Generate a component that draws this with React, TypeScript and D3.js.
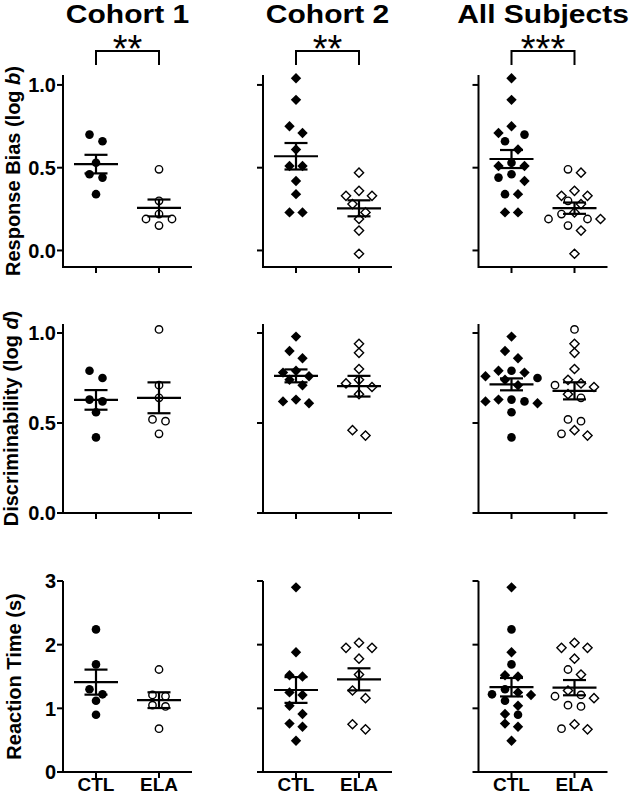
import React from 'react';
import * as d3 from 'd3';

// ---------- data ----------
const groups = ['CTL', 'ELA'];
const columnTitles = ['Cohort 1', 'Cohort 2', 'All Subjects'];
const significance = ['**', '**', '***'];

// Response bias (log b)
const c1BiasCTL = [0.70, 0.66, 0.53, 0.46, 0.44, 0.34];
const c1BiasELA = [0.49, 0.30, 0.22, 0.19, 0.19, 0.15];
const c2BiasCTL = [1.04, 0.91, 0.75, 0.71, 0.61, 0.51, 0.51, 0.42, 0.34, 0.23, 0.23];
const c2BiasELA = [0.47, 0.36, 0.33, 0.33, 0.28, 0.23, 0.19, 0.12, -0.02];

// Discriminability (log d)
const c1DiscCTL = [0.79, 0.75, 0.63, 0.62, 0.56, 0.42];
const c1DiscELA = [1.02, 0.71, 0.64, 0.52, 0.51, 0.44];
const c2DiscCTL = [0.98, 0.90, 0.86, 0.79, 0.78, 0.76, 0.74, 0.71, 0.63, 0.62, 0.61];
const c2DiscELA = [0.94, 0.89, 0.80, 0.74, 0.72, 0.70, 0.66, 0.46, 0.43];

// Reaction time (s)
const c1RtCTL = [2.24, 1.69, 1.30, 1.22, 1.12, 0.90];
const c1RtELA = [1.61, 1.21, 1.19, 1.05, 1.03, 0.68];
const c2RtCTL = [2.90, 1.88, 1.52, 1.50, 1.25, 1.21, 1.04, 0.91, 0.76, 0.71, 0.49];
const c2RtELA = [2.03, 1.95, 1.95, 1.78, 1.53, 1.28, 1.16, 0.75, 0.67];

const biasTicks = [0, 0.5, 1.0];
const discTicks = [0, 0.5, 1.0];
const rtTicks = [0, 1, 2, 3];

// ---------- layout ----------
const W = 631;
const H = 796;
const FONT = 'Liberation Sans, Arial, Helvetica, sans-serif';
const axisXs = [63, 263, 478.5];

type Shape = 'circle' | 'diamond';
type Pt = { v: number; shape: Shape };

const toPts = (vals: number[], shape: Shape): Pt[] => vals.map((v) => ({ v, shape }));

type RowDef = {
  label: string;
  italic: string;
  labelX: number;
  domain: [number, number];
  range: [number, number];
  ticks: number[];
  fmt: (n: number) => string;
  data: [number[], number[]][];
};

const rows: RowDef[] = [
  {
    label: 'Response Bias (log ',
    italic: 'b',
    labelX: 19.5,
    domain: [-0.1, 1.06],
    range: [267, 75],
    ticks: biasTicks,
    fmt: d3.format('.1f'),
    data: [
      [c1BiasCTL, c1BiasELA],
      [c2BiasCTL, c2BiasELA],
    ],
  },
  {
    label: 'Discriminability (log ',
    italic: 'd',
    labelX: 18,
    domain: [0, 1.05],
    range: [513, 324],
    ticks: discTicks,
    fmt: d3.format('.1f'),
    data: [
      [c1DiscCTL, c1DiscELA],
      [c2DiscCTL, c2DiscELA],
    ],
  },
  {
    label: 'Reaction Time (s)',
    italic: '',
    labelX: 20.5,
    domain: [0, 3],
    range: [772, 581],
    ticks: rtTicks,
    fmt: d3.format('d'),
    data: [
      [c1RtCTL, c1RtELA],
      [c2RtCTL, c2RtELA],
    ],
  },
];

// GraphPad-like row arrangement of points
function arrange(pts: Pt[], y: d3.ScaleLinear<number, number>, spacing = 13, threshold = 9) {
  const sorted = [...pts].sort((a, b) => b.v - a.v);
  const groupsRows: Pt[][] = [];
  for (const p of sorted) {
    const cur = groupsRows[groupsRows.length - 1];
    if (cur && y(p.v) - y(cur[0].v) < threshold) cur.push(p);
    else groupsRows.push([p]);
  }
  const out: { p: Pt; dx: number }[] = [];
  for (const r of groupsRows) {
    const n = r.length;
    const slots = d3.range(n).map((i) => i - (n - 1) / 2);
    slots.sort((a, b) => Math.abs(a) - Math.abs(b) || a - b);
    r.forEach((p, i) => out.push({ p, dx: slots[i] * spacing }));
  }
  return out;
}

const Marker: React.FC<{ x: number; y: number; shape: Shape; filled: boolean }> = ({ x, y, shape, filled }) => {
  const fill = filled ? '#000' : '#fff';
  const sw = filled ? 0 : 1.4;
  if (shape === 'circle') {
    return <circle cx={x} cy={y} r={filled ? 4.3 : 3.7} fill={fill} stroke="#000" strokeWidth={sw} />;
  }
  const s = filled ? 5.2 : 4.6;
  return (
    <path
      d={`M${x},${y - s}L${x + s},${y}L${x},${y + s}L${x - s},${y}Z`}
      fill={fill}
      stroke="#000"
      strokeWidth={sw}
      strokeLinejoin="miter"
    />
  );
};

const Panel: React.FC<{ row: RowDef; col: number; showLabels: boolean; showCats: boolean }> = ({
  row,
  col,
  showLabels,
  showCats,
}) => {
  const ax = axisXs[col];
  const y = d3.scaleLinear().domain(row.domain).range(row.range);
  const x = d3.scalePoint<string>().domain(groups).range([ax + 33, ax + 96]);
  const xEnd = ax + 129;
  const yBottom = row.range[0];
  const yTop = row.range[1];

  const series: Pt[][] = groups.map((_, gi) => {
    if (col === 0) return toPts(row.data[0][gi], 'circle');
    if (col === 1) return toPts(row.data[1][gi], 'diamond');
    return [...toPts(row.data[0][gi], 'circle'), ...toPts(row.data[1][gi], 'diamond')];
  });

  return (
    <g>
      <path d={`M${ax},${yTop}V${yBottom}H${xEnd}`} fill="none" stroke="#000" strokeWidth={2} />
      {row.ticks.map((t) => (
        <g key={t}>
          <line x1={ax - 6} x2={ax} y1={y(t)} y2={y(t)} stroke="#000" strokeWidth={2} />
          {showLabels && (
            <text
              x={ax - 7}
              y={y(t)}
              dy="0.36em"
              textAnchor="end"
              fontFamily={FONT}
              fontWeight="bold"
              fontSize={20}
              fill="#000"
            >
              {row.fmt(t)}
            </text>
          )}
        </g>
      ))}
      {groups.map((g) => (
        <g key={g}>
          <line x1={x(g)} x2={x(g)} y1={yBottom} y2={yBottom + 6} stroke="#000" strokeWidth={2} />
          {showCats && (
            <text x={x(g)} y={791} textAnchor="middle" fontFamily={FONT} fontWeight="bold" fontSize={19} fill="#000">
              {g}
            </text>
          )}
        </g>
      ))}
      {series.map((pts, gi) => {
        const cx = x(groups[gi]) as number;
        return arrange(pts, y).map(({ p, dx }, i) => (
          <Marker key={`${gi}-${i}`} x={cx + dx} y={y(p.v)} shape={p.shape} filled={gi === 0} />
        ));
      })}
      {series.map((pts, gi) => {
        const cx = x(groups[gi]) as number;
        const vals = pts.map((p) => p.v);
        const m = d3.mean(vals) as number;
        const sem = (d3.deviation(vals) as number) / Math.sqrt(vals.length);
        return (
          <g key={`e${gi}`} stroke="#000" strokeWidth={2.2}>
            <line x1={cx - 22} x2={cx + 22} y1={y(m)} y2={y(m)} />
            <line x1={cx} x2={cx} y1={y(m - sem)} y2={y(m + sem)} />
            <line x1={cx - 11.5} x2={cx + 11.5} y1={y(m + sem)} y2={y(m + sem)} />
            <line x1={cx - 11.5} x2={cx + 11.5} y1={y(m - sem)} y2={y(m - sem)} />
          </g>
        );
      })}
    </g>
  );
};

export default function App() {
  return (
    <svg
      width={W}
      height={H}
      viewBox={`0 0 ${W} ${H}`}
      style={{ position: 'absolute', left: 0, top: 0, background: '#fff' }}
    >
      <rect width={W} height={H} fill="#fff" />
      {columnTitles.map((t, ci) => {
        const ax = axisXs[ci];
        const x = d3.scalePoint<string>().domain(groups).range([ax + 33, ax + 96]);
        const x0 = x('CTL') as number;
        const x1 = x('ELA') as number;
        const cx = (x0 + x1) / 2;
        return (
          <g key={t}>
            <text
              transform={`translate(${cx},23) scale(1.2,1)`}
              textAnchor="middle"
              fontFamily={FONT}
              fontWeight="bold"
              fontSize={25}
              fill="#000"
            >
              {t}
            </text>
            <text x={cx} y={62} textAnchor="middle" fontFamily={FONT} fontSize={38} fill="#000">
              {significance[ci]}
            </text>
            <path d={`M${x0},65V51H${x1}V65`} fill="none" stroke="#000" strokeWidth={2} />
          </g>
        );
      })}
      {rows.map((r, ri) => (
        <text
          key={`l${ri}`}
          transform={`translate(${r.labelX},${(r.range[0] + r.range[1]) / 2}) rotate(-90)`}
          textAnchor="middle"
          fontFamily={FONT}
          fontWeight="bold"
          fontSize={20}
          fill="#000"
        >
          {r.label}
          {r.italic && <tspan fontStyle="italic">{r.italic}</tspan>}
          {r.italic && ')'}
        </text>
      ))}
      {rows.map((r, ri) =>
        [0, 1, 2].map((ci) => (
          <Panel key={`${ri}-${ci}`} row={r} col={ci} showLabels={ci === 0} showCats={ri === 2} />
        ))
      )}
    </svg>
  );
}
